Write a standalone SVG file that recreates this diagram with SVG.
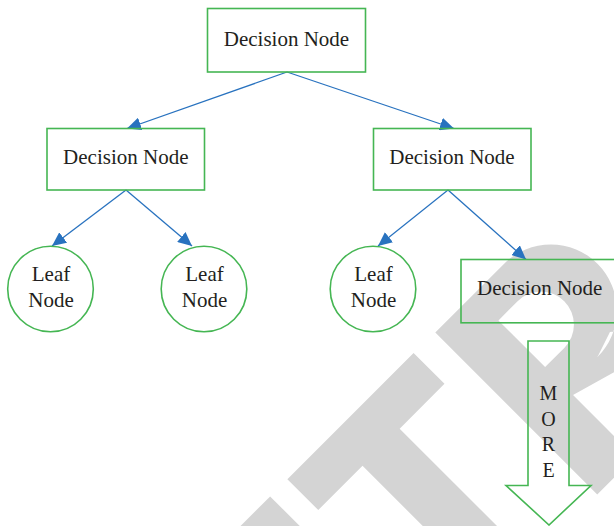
<svg xmlns="http://www.w3.org/2000/svg" width="614" height="526" viewBox="0 0 614 526">
  <style>
    .box { fill: none; stroke: #45b653; stroke-width: 1.6; }
    .leaf { fill: none; stroke: #45b653; stroke-width: 1.6; }
    .edge { fill: none; stroke: #2872bf; stroke-width: 1.3; marker-end: url(#tip); }
    .lbl { font-family: "Liberation Serif", "Times New Roman", serif; font-size: 21px; fill: #231f20; text-anchor: middle; }
    .more { font-family: "Liberation Serif", "Times New Roman", serif; font-size: 20px; fill: #231f20; text-anchor: middle; }
    .wm { fill: #d4d4d4; }
  </style>
  <defs>
    <marker id="tip" markerUnits="userSpaceOnUse" markerWidth="15" markerHeight="13" refX="14" refY="6.5" orient="auto">
      <path d="M0,0 L14,6.5 L0,13 Z" fill="#2872bf"/>
    </marker>
  </defs>

  <rect width="614" height="526" fill="#ffffff"/>

  <!-- large grey letters laid diagonally across the lower right -->
  <g id="backdrop-letters" class="wm" transform="rotate(-45)">
    <rect x="-230" y="542" width="70" height="80"/>
    <path d="M-135.6,542 H42.9 V585.7 H-20.5 V800 H-73 V585.7 H-135.6 Z"/>
    <path fill-rule="evenodd" d="M72.6,543 H170 A66,66 0 0 1 170,675 L196.6,666 L260,720 L200,740 L171,697.3 L125.9,684.5 V772 H72.6 Z
             M125.9,579 H153 A33,33 0 0 1 153,645 H125.9 Z"/>
  </g>

  <g id="connectors">
    <line class="edge" x1="287" y1="72" x2="127" y2="128.5"/>
    <line class="edge" x1="287" y1="72" x2="454" y2="128.5"/>
    <line class="edge" x1="126" y1="190" x2="52" y2="246"/>
    <line class="edge" x1="126" y1="190" x2="192" y2="246"/>
    <line class="edge" x1="448" y1="190" x2="378" y2="246"/>
    <line class="edge" x1="448" y1="190" x2="526" y2="259.5"/>
  </g>

  <g id="root">
    <rect class="box" x="207.5" y="8.5" width="158" height="63.5"/>
    <text class="lbl" x="286.5" y="45.5">Decision Node</text>
  </g>
  <g id="decision-left">
    <rect class="box" x="47" y="128.5" width="157.5" height="61.5"/>
    <text class="lbl" x="125.8" y="164">Decision Node</text>
  </g>
  <g id="decision-right">
    <rect class="box" x="373.5" y="128.5" width="157.5" height="61.5"/>
    <text class="lbl" x="452" y="164">Decision Node</text>
  </g>
  <g id="leaf-1">
    <circle class="leaf" cx="50.5" cy="289" r="42.8"/>
    <text class="lbl" x="51" y="280.5">Leaf</text>
    <text class="lbl" x="51" y="306.5">Node</text>
  </g>
  <g id="leaf-2">
    <circle class="leaf" cx="204" cy="289" r="42.8"/>
    <text class="lbl" x="204.5" y="280.5">Leaf</text>
    <text class="lbl" x="204.5" y="306.5">Node</text>
  </g>
  <g id="leaf-3">
    <circle class="leaf" cx="373" cy="289" r="42.8"/>
    <text class="lbl" x="373.5" y="280.5">Leaf</text>
    <text class="lbl" x="373.5" y="306.5">Node</text>
  </g>
  <g id="decision-lower">
    <rect class="box" x="461" y="259.5" width="170" height="63.3"/>
    <text class="lbl" x="539.7" y="295">Decision Node</text>
  </g>
  <g id="more">
    <path class="box" d="M528,341 H569 V485.5 H591 L549,525 L506,485.5 H528 Z"/>
    <text class="more" x="548.5" y="400">M</text>
    <text class="more" x="548.5" y="425.5">O</text>
    <text class="more" x="548.5" y="451">R</text>
    <text class="more" x="548.5" y="476.5">E</text>
  </g>
</svg>
